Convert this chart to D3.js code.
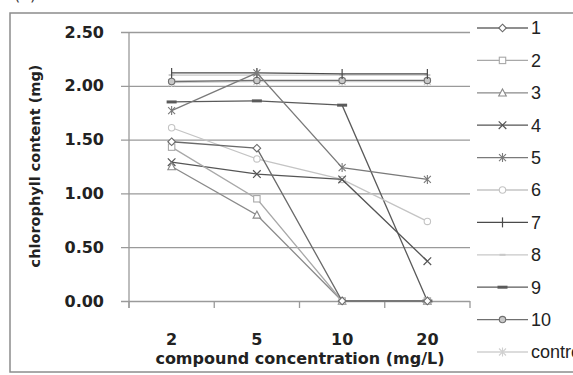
<!DOCTYPE html>
<html>
<head>
<meta charset="utf-8">
<script src="https://cdn.jsdelivr.net/npm/d3@7"></script>
<style>
  body { margin: 0; background: #fff; }
  svg { display: block; }
  .axis text { font-family: "DejaVu Sans", sans-serif; font-weight: bold; fill: #222; }
</style>
</head>
<body>
<svg width="573" height="375"></svg>
<script>
// concentrations on the x axis
var categories = ["2", "5", "10", "20"];
var yTicks = [0, 0.5, 1.0, 1.5, 2.0, 2.5];

// chlorophyll content per compound (mg)
var s1 = [1.48, 1.42, 0, 0];
var s2 = [1.43, 0.95, 0, 0];
var s3 = [1.25, 0.80, 0, 0];
var s4 = [1.29, 1.18, 1.13, 0.37];
var s5 = [1.77, 2.12, 1.24, 1.13];
var s6 = [1.61, 1.32, 1.13, 0.74];
var s7 = [2.12, 2.12, 2.11, 2.11];
var s8 = [2.10, 2.10, 2.10, 2.10];
var s9 = [1.85, 1.86, 1.82, 0];
var s10 = [2.04, 2.05, 2.05, 2.05];
var sControl = [2.03, 2.04, 2.04, 2.04];

var seriesNames = ["1", "2", "3", "4", "5", "6", "7", "8", "9", "10", "control"];
var seriesValues = [s1, s2, s3, s4, s5, s6, s7, s8, s9, s10, sControl];

// grey shades and marker per series, like the excel print
var styles = [
  {color: "#6a6a6a", marker: "diamond", fill: "#fff"},
  {color: "#a8a8a8", marker: "square", fill: "#fff"},
  {color: "#8a8a8a", marker: "triangle", fill: "#fff"},
  {color: "#555555", marker: "x", fill: "#fff"},
  {color: "#7a7a7a", marker: "star", fill: "#fff"},
  {color: "#c4c4c4", marker: "circle", fill: "#fff"},
  {color: "#4a4a4a", marker: "plus", fill: "#fff"},
  {color: "#c8c8c8", marker: "dash", fill: "#fff"},
  {color: "#5a5a5a", marker: "bar", fill: "#fff"},
  {color: "#707070", marker: "circle", fill: "#c8c8c8"},
  {color: "#d0d0d0", marker: "star", fill: "#fff"}
];

var svg = d3.select("svg");

var plot = {left: 129, right: 470, top: 32, bottom: 301};

var x = d3.scaleBand().domain(categories).range([plot.left, plot.right]).padding(0);
var y = d3.scaleLinear().domain([0, 2.5]).range([plot.bottom, plot.top]);

// outer frame of the chart
svg.append("rect")
  .attr("x", 10).attr("y", 13)
  .attr("width", 600).attr("height", 359)
  .attr("fill", "none").attr("stroke", "#8c8c8c").attr("stroke-width", 1.5);

// panel letter, cut off at the top edge
svg.append("text")
  .attr("x", 14).attr("y", 0)
  .style("font-family", "DejaVu Sans, sans-serif").style("font-size", "16px").style("fill", "#333")
  .text("(a)");

// gridlines
var grid = svg.append("g")
  .attr("transform", "translate(" + plot.right + ",0)")
  .call(d3.axisRight(y).tickValues(yTicks).tickSize(-(plot.right - plot.left + 8)).tickFormat(""));
grid.select(".domain").remove();
grid.selectAll("line").attr("stroke", "#9a9a9a").attr("stroke-width", 1.3);

// y axis labels
var yAxis = svg.append("g")
  .attr("class", "axis")
  .attr("transform", "translate(" + (plot.left - 8) + ",0)")
  .call(d3.axisLeft(y).tickValues(yTicks).tickSize(0).tickPadding(17).tickFormat(d3.format(".2f")));
yAxis.select(".domain").remove();
yAxis.selectAll("text").style("font-size", "16px");

// y axis line
svg.append("line")
  .attr("x1", plot.left).attr("x2", plot.left)
  .attr("y1", y(2.5)).attr("y2", y(0) + 7)
  .attr("stroke", "#9a9a9a").attr("stroke-width", 1.3);

// x axis labels
var xAxis = svg.append("g")
  .attr("class", "axis")
  .attr("transform", "translate(0," + plot.bottom + ")")
  .call(d3.axisBottom(x).tickSize(0).tickPadding(33));
xAxis.select(".domain").remove();
xAxis.selectAll("text").style("font-size", "16px");

// x axis ticks between the categories
var bounds = [plot.left].concat(categories.map(function (c) { return x(c) + x.bandwidth(); }));
svg.selectAll(".xtick")
  .data(bounds)
  .enter().append("line")
  .attr("class", "xtick")
  .attr("x1", function (d) { return d; })
  .attr("x2", function (d) { return d; })
  .attr("y1", plot.bottom)
  .attr("y2", plot.bottom + 7)
  .attr("stroke", "#9a9a9a").attr("stroke-width", 1.3);

// axis titles
svg.append("text")
  .attr("x", 300).attr("y", 364)
  .attr("text-anchor", "middle")
  .style("font-family", "DejaVu Sans, sans-serif").style("font-weight", "bold").style("font-size", "16px").style("fill", "#222")
  .text("compound concentration (mg/L)");

svg.append("text")
  .attr("transform", "translate(40,166) rotate(-90)")
  .attr("text-anchor", "middle")
  .style("font-family", "DejaVu Sans, sans-serif").style("font-weight", "bold").style("font-size", "14.5px").style("fill", "#222")
  .text("chlorophyll content (mg)");

function drawMarker(g, type, color, fill) {
  var r = 3.2;
  if (type === "diamond") {
    g.append("path").attr("d", "M0,-3.8L3.8,0L0,3.8L-3.8,0Z").attr("fill", fill).attr("stroke", color).attr("stroke-width", 1.1);
  } else if (type === "square") {
    g.append("rect").attr("x", -r).attr("y", -r).attr("width", 2 * r).attr("height", 2 * r)
      .attr("fill", fill).attr("stroke", color).attr("stroke-width", 1.1);
  } else if (type === "triangle") {
    g.append("path").attr("d", "M0,-3.8L3.8,3.2L-3.8,3.2Z").attr("fill", fill).attr("stroke", color).attr("stroke-width", 1.1);
  } else if (type === "circle") {
    g.append("circle").attr("r", r).attr("fill", fill).attr("stroke", color).attr("stroke-width", 1.1);
  } else if (type === "x") {
    g.append("path").attr("d", "M-3.8,-3.8L3.8,3.8M-3.8,3.8L3.8,-3.8").attr("stroke", color).attr("stroke-width", 1.2);
  } else if (type === "star") {
    g.append("path").attr("d", "M-3.5,-3.5L3.5,3.5M-3.5,3.5L3.5,-3.5M0,-4.5L0,4.5").attr("stroke", color).attr("stroke-width", 1.1);
  } else if (type === "plus") {
    g.append("path").attr("d", "M0,-5L0,5").attr("stroke", color).attr("stroke-width", 1.2);
  } else if (type === "dash") {
    g.append("path").attr("d", "M-3,0L3,0").attr("stroke", color).attr("stroke-width", 2);
  } else if (type === "bar") {
    g.append("path").attr("d", "M-5,0L5,0").attr("stroke", color).attr("stroke-width", 3);
  }
}

var line = d3.line()
  .x(function (d, i) { return x(categories[i]) + x.bandwidth() / 2; })
  .y(function (d) { return y(d); });

// draw series from the last so that series 1 ends on top
for (var k = seriesValues.length - 1; k >= 0; k--) {
  var st = styles[k];
  var g = svg.append("g").attr("class", "series");
  g.append("path")
    .datum(seriesValues[k])
    .attr("d", line)
    .attr("fill", "none")
    .attr("stroke", st.color)
    .attr("stroke-width", 1.3);
  seriesValues[k].forEach(function (v, i) {
    var m = g.append("g")
      .attr("transform", "translate(" + (x(categories[i]) + x.bandwidth() / 2) + "," + y(v) + ")");
    drawMarker(m, st.marker, st.color, st.fill);
  });
}

// legend
var legend = svg.append("g").attr("transform", "translate(477,28)");
var legendStep = 32.4;
seriesNames.forEach(function (name, k) {
  var row = legend.append("g").attr("transform", "translate(0," + (k * legendStep) + ")");
  row.append("line").attr("x1", 0).attr("x2", 51).attr("y1", 0).attr("y2", 0)
    .attr("stroke", styles[k].color).attr("stroke-width", 1.3);
  var m = row.append("g").attr("transform", "translate(25.5,0)");
  drawMarker(m, styles[k].marker, styles[k].color, styles[k].fill);
  row.append("text")
    .attr("x", 54).attr("y", 0).attr("dy", "0.35em")
    .style("font-family", "Liberation Sans Narrow, Liberation Sans, sans-serif")
    .style("font-size", "18px").style("fill", "#222")
    .text(name);
});
</script>
</body>
</html>
